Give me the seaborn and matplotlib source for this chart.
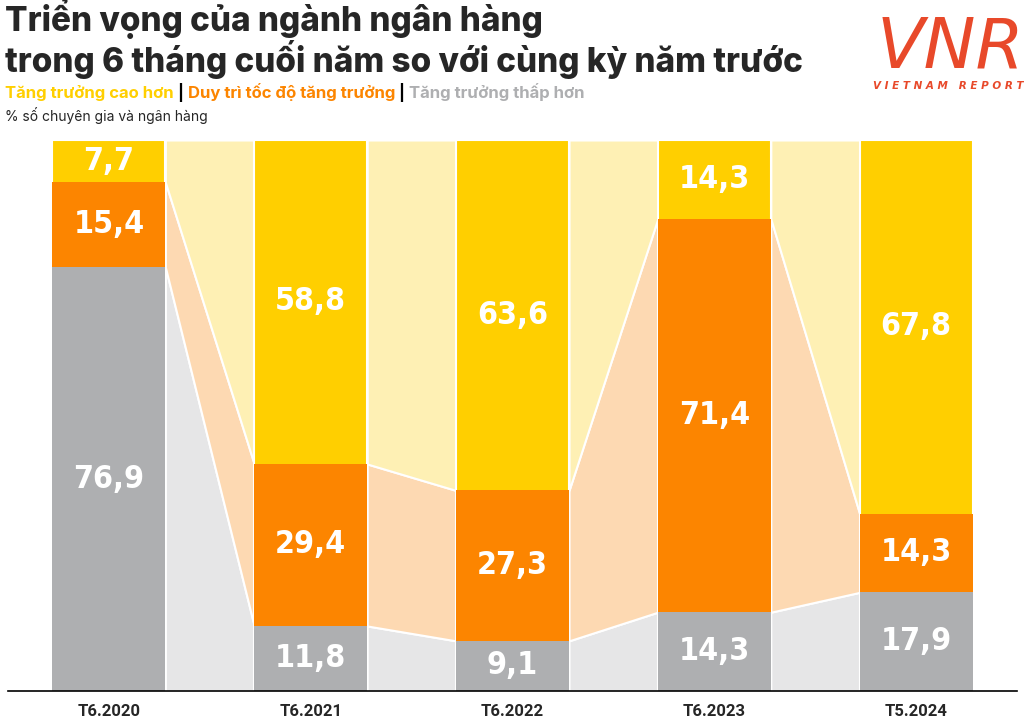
import numpy as np
import pandas as pd
import matplotlib
matplotlib.use("Agg")
import matplotlib.pyplot as plt
import seaborn as sns

# ================================
#  Data (% số chuyên gia và ngân hàng)
# ================================
periods = ["T6.2020", "T6.2021", "T6.2022", "T6.2023", "T5.2024"]
lower = [76.9, 11.8, 9.1, 14.3, 17.9]      # Tăng trưởng thấp hơn
keep = [15.4, 29.4, 27.3, 71.4, 14.3]      # Duy trì tốc độ tăng trưởng
higher = [7.7, 58.8, 63.6, 14.3, 67.8]     # Tăng trưởng cao hơn

c_yellow, c_orange, c_gray = "#FFCF00", "#FC8500", "#AEAFB1"
c_yellow_l, c_orange_l, c_gray_l = "#FEF0B4", "#FDD9B2", "#E6E6E7"
logo_red = "#E8492A"

df = pd.DataFrame({"period": periods, "lower": lower, "keep": keep, "higher": higher})
df["top_gray"] = df["lower"]
df["top_orange"] = df["lower"] + df["keep"]
df["top_all"] = df["top_orange"] + df["higher"]

sns.set_style("white")
title_font = ["Inter", "Noto Sans", "DejaVu Sans"]

fig = plt.figure(figsize=(10.24, 7.24), dpi=100)
ax = fig.add_axes([8 / 1024, 33 / 724, 1009 / 1024, 551 / 724])

bw = 0.56

# connecting bands between bars
for i in range(len(periods) - 1):
    x0, x1 = i + bw / 2, i + 1 - bw / 2
    xs = [x0, x1]
    layers = [
        (0, 0, df["top_gray"][i], df["top_gray"][i + 1], c_gray_l),
        (df["top_gray"][i], df["top_gray"][i + 1], df["top_orange"][i], df["top_orange"][i + 1], c_orange_l),
        (df["top_orange"][i], df["top_orange"][i + 1], 100, 100, c_yellow_l),
    ]
    for lo0, lo1, hi0, hi1, col in layers:
        ax.fill_between(xs, [lo0, lo1], [hi0, hi1], color=col, lw=1.5, edgecolor="white", zorder=1)

# stacked bars: draw cumulative totals layered on top of each other
sns.barplot(data=df, x="period", y="top_all", color=c_yellow, width=bw, saturation=1,
            linewidth=1.5, edgecolor="white", ax=ax, zorder=2)
sns.barplot(data=df, x="period", y="top_orange", color=c_orange, width=bw, saturation=1,
            linewidth=0, ax=ax, zorder=3)
sns.barplot(data=df, x="period", y="top_gray", color=c_gray, width=bw, saturation=1,
            linewidth=0, ax=ax, zorder=4)

# value labels
for i in range(len(periods)):
    for bottom, val in [(0, lower[i]), (df["top_gray"][i], keep[i]), (df["top_orange"][i], higher[i])]:
        ax.text(i, bottom + val / 2, f"{val:.1f}".replace(".", ","), ha="center", va="center",
                color="white", fontsize=23, fontweight="bold", fontstretch="condensed",
                family="DejaVu Sans", zorder=5)

ax.set_xlim(-0.5, 4.5)
ax.set_ylim(0, 100)
ax.set_xlabel("")
ax.set_ylabel("")
ax.set_yticks([])
ax.tick_params(axis="x", length=0, pad=9)
for lab in ax.get_xticklabels():
    lab.set_fontfamily(["Roboto", "DejaVu Sans"])
    lab.set_fontweight("bold")
    lab.set_fontsize(12)
for s in ["top", "right", "left"]:
    ax.spines[s].set_visible(False)
ax.spines["bottom"].set_color("black")
ax.spines["bottom"].set_linewidth(1.2)
ax.spines["bottom"].set_zorder(6)

# ================================
#  Title / legend / logo
# ================================
fig.text(5 / 1024, 1 - 31 / 724, "Triển vọng của ngành ngân hàng", fontsize=24, fontweight="heavy",
         family=title_font, va="baseline")
fig.text(5 / 1024, 1 - 72 / 724, "trong 6 tháng cuối năm so với cùng kỳ năm trước", fontsize=24,
         fontweight="heavy", family=title_font, va="baseline")

leg_parts = [("Tăng trưởng cao hơn", c_yellow), (" | ", "black"),
             ("Duy trì tốc độ tăng trưởng", c_orange), (" | ", "black"),
             ("Tăng trưởng thấp hơn", c_gray)]
renderer = fig.canvas.get_renderer()
xpos = 5
for txt, col in leg_parts:
    t = fig.text(xpos / 1024, 1 - 98 / 724, txt, fontsize=12, fontweight="bold", color=col,
                 family=title_font, va="baseline")
    xpos += t.get_window_extent(renderer).width

fig.text(5 / 1024, 1 - 121 / 724, "% số chuyên gia và ngân hàng", fontsize=10, family=title_font,
         va="baseline")

fig.text(950 / 1024, 1 - 68 / 724, "VNR", fontsize=50, fontweight="normal", style="italic",
         color=logo_red, ha="center", va="baseline", family=["DejaVu Sans"])
fig.text(948 / 1024, 1 - 89 / 724, "V I E T N A M   R E P O R T", fontsize=7.5, fontweight="bold",
         style="italic", color=logo_red, ha="center", va="baseline", family=["DejaVu Sans"])

fig.savefig("out.png", dpi=100)
